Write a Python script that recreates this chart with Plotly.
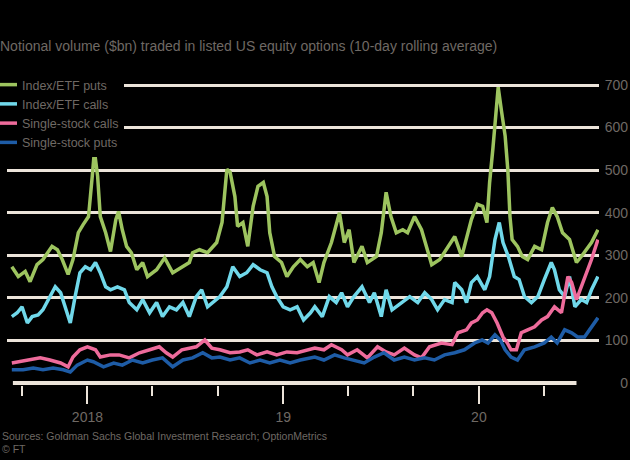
import plotly.graph_objects as go

title_text = "Notional volume ($bn) traded in listed US equity options (10-day rolling average)"
source_text = "Sources: Goldman Sachs Global Investment Research; OptionMetrics"
credit_text = "© FT"

series_names = ["Index/ETF puts", "Index/ETF calls", "Single-stock calls", "Single-stock puts"]
series_colors = ["#9dc45f", "#70d8ea", "#ee6b9b", "#1e5ca6"]

puts_idx_dates = [
    "2017-08-13", "2017-08-25", "2017-09-07", "2017-09-16", "2017-09-29", "2017-10-10", "2017-10-27",
    "2017-11-06", "2017-11-15", "2017-11-26", "2017-12-05", "2017-12-15", "2017-12-24", "2018-01-03",
    "2018-01-10", "2018-01-14", "2018-01-20", "2018-01-25", "2018-02-04", "2018-02-13", "2018-02-23",
    "2018-02-28", "2018-03-07", "2018-03-15", "2018-03-24", "2018-04-03", "2018-04-14", "2018-04-23",
    "2018-05-10", "2018-05-25", "2018-06-09", "2018-06-26", "2018-07-10", "2018-07-16", "2018-07-29",
    "2018-08-13", "2018-08-30", "2018-09-09", "2018-09-18", "2018-09-24", "2018-10-03", "2018-10-08",
    "2018-10-18", "2018-10-27", "2018-11-06", "2018-11-15", "2018-11-25", "2018-12-02", "2018-12-07",
    "2018-12-16", "2018-12-29", "2019-01-08", "2019-01-20", "2019-02-02", "2019-02-15", "2019-02-26",
    "2019-03-09", "2019-03-18", "2019-04-01", "2019-04-16", "2019-04-25", "2019-05-04", "2019-05-13",
    "2019-05-28", "2019-06-07", "2019-06-24", "2019-07-03", "2019-07-12", "2019-07-21", "2019-07-31",
    "2019-08-12", "2019-08-21", "2019-09-03", "2019-09-16", "2019-09-26", "2019-10-05", "2019-10-20",
    "2019-11-04", "2019-11-17", "2019-11-30", "2019-12-09", "2019-12-18", "2019-12-29", "2020-01-08",
    "2020-01-16", "2020-01-21", "2020-01-27", "2020-02-02", "2020-02-06", "2020-02-12", "2020-02-19",
    "2020-02-24", "2020-02-28", "2020-03-03", "2020-03-13", "2020-03-22", "2020-04-01", "2020-04-14",
    "2020-04-27", "2020-05-08", "2020-05-17", "2020-05-26", "2020-06-05", "2020-06-18", "2020-07-01",
    "2020-07-10", "2020-07-20", "2020-07-29", "2020-08-10",
]
puts_idx_values = [
    273, 250, 262, 238, 278, 290, 321,
    313, 290, 255, 290, 353, 372, 391,
    486, 545, 486, 391, 353, 309, 384,
    403, 360, 321, 306, 266, 283, 250,
    266, 294, 259, 273, 283, 306, 313,
    306, 330, 377, 502, 495, 438, 368,
    377, 321, 415, 462, 471, 438, 353,
    297, 283, 250, 273, 290, 273, 283,
    236, 283, 330, 400, 330, 360, 283,
    321, 283, 297, 353, 448, 391, 353,
    360, 353, 391, 360, 313, 278, 290,
    321, 344, 297, 344, 384, 420, 415,
    377, 471, 549, 640, 695, 640, 580,
    500, 391, 337, 321, 297, 290, 321,
    313, 377, 412, 391, 353, 337, 283,
    297, 313, 330, 360,
]

calls_idx_dates = [
    "2017-08-13", "2017-08-23", "2017-09-01", "2017-09-11", "2017-09-20", "2017-10-01", "2017-10-10",
    "2017-10-23", "2017-11-02", "2017-11-12", "2017-11-21", "2017-11-30", "2017-12-09", "2017-12-18",
    "2017-12-28", "2018-01-07", "2018-01-16", "2018-01-25", "2018-02-04", "2018-02-13", "2018-02-26",
    "2018-03-11", "2018-03-20", "2018-04-03", "2018-04-14", "2018-04-27", "2018-05-10", "2018-05-21",
    "2018-06-03", "2018-06-16", "2018-06-28", "2018-07-10", "2018-07-23", "2018-08-02", "2018-08-13",
    "2018-08-23", "2018-09-05", "2018-09-18", "2018-09-29", "2018-10-12", "2018-10-25", "2018-11-06",
    "2018-11-19", "2018-12-02", "2018-12-11", "2018-12-20", "2019-01-01", "2019-01-14", "2019-01-27",
    "2019-02-08", "2019-02-21", "2019-03-01", "2019-03-15", "2019-03-28", "2019-04-10", "2019-04-20",
    "2019-05-01", "2019-05-13", "2019-05-28", "2019-06-11", "2019-06-20", "2019-07-03", "2019-07-12",
    "2019-07-23", "2019-08-10", "2019-08-25", "2019-09-09", "2019-09-22", "2019-10-05", "2019-10-16",
    "2019-10-29", "2019-11-12", "2019-11-17", "2019-11-30", "2019-12-09", "2019-12-18", "2019-12-29",
    "2020-01-12", "2020-01-21", "2020-01-31", "2020-02-08", "2020-02-15", "2020-02-25", "2020-03-07",
    "2020-03-16", "2020-03-26", "2020-04-08", "2020-04-20", "2020-05-02", "2020-05-15", "2020-05-21",
    "2020-05-30", "2020-06-09", "2020-06-18", "2020-06-28", "2020-07-10", "2020-07-20", "2020-07-29",
    "2020-08-10",
]
calls_idx_values = [
    156, 165, 179, 141, 156, 160, 172,
    203, 226, 212, 179, 141, 203, 259,
    273, 266, 283, 259, 226, 219, 226,
    219, 189, 172, 196, 165, 189, 156,
    179, 172, 189, 156, 203, 219, 179,
    189, 203, 226, 273, 250, 259, 278,
    266, 259, 226, 203, 179, 172, 179,
    148, 165, 179, 156, 203, 189, 212,
    179, 203, 226, 189, 212, 156, 219,
    172, 189, 203, 189, 212, 196, 172,
    196, 189, 236, 219, 189, 236, 250,
    219, 250, 337, 377, 330, 297, 250,
    243, 203, 189, 203, 243, 283, 266,
    219, 203, 250, 179, 196, 189, 219,
    250,
]

calls_ss_dates = [
    "2017-08-13", "2017-08-28", "2017-09-16", "2017-10-05", "2017-10-23", "2017-11-12", "2017-11-26",
    "2017-12-05", "2017-12-18", "2018-01-01", "2018-01-16", "2018-01-25", "2018-02-13", "2018-03-01",
    "2018-03-20", "2018-04-08", "2018-04-27", "2018-05-15", "2018-05-28", "2018-06-09", "2018-06-26",
    "2018-07-10", "2018-07-23", "2018-08-08", "2018-08-21", "2018-09-05", "2018-09-24", "2018-10-12",
    "2018-10-27", "2018-11-13", "2018-12-02", "2018-12-20", "2019-01-08", "2019-01-27", "2019-02-15",
    "2019-03-01", "2019-03-18", "2019-04-01", "2019-04-20", "2019-05-01", "2019-05-19", "2019-06-07",
    "2019-06-26", "2019-07-12", "2019-07-27", "2019-08-15", "2019-09-03", "2019-09-16", "2019-10-01",
    "2019-10-23", "2019-11-12", "2019-11-23", "2019-12-09", "2019-12-18", "2019-12-29", "2020-01-08",
    "2020-01-16", "2020-01-25", "2020-02-04", "2020-02-15", "2020-02-23", "2020-03-01", "2020-03-11",
    "2020-03-20", "2020-04-01", "2020-04-14", "2020-04-27", "2020-05-08", "2020-05-21", "2020-06-03",
    "2020-06-15", "2020-06-22", "2020-07-01", "2020-07-10", "2020-07-16", "2020-07-29", "2020-08-10",
]
calls_ss_values = [
    47, 50, 54, 59, 54, 47, 38,
    61, 78, 85, 78, 61, 66, 66,
    59, 71, 78, 85, 71, 61, 78,
    82, 85, 101, 82, 78, 71, 73,
    78, 66, 73, 66, 73, 71, 78,
    82, 78, 90, 78, 66, 78, 59,
    85, 73, 66, 82, 66, 59, 85,
    94, 90, 118, 125, 141, 148, 165,
    172, 165, 141, 108, 94, 78, 78,
    118, 125, 132, 148, 156, 179, 165,
    250, 236, 196, 226, 250, 290, 337,
]

puts_ss_dates = [
    "2017-08-13", "2017-09-03", "2017-09-22", "2017-10-10", "2017-10-29", "2017-11-17", "2017-11-30",
    "2017-12-13", "2018-01-01", "2018-01-12", "2018-01-31", "2018-02-19", "2018-03-07", "2018-03-26",
    "2018-04-14", "2018-05-02", "2018-05-21", "2018-06-09", "2018-06-28", "2018-07-16", "2018-08-04",
    "2018-08-21", "2018-09-05", "2018-09-24", "2018-10-12", "2018-10-31", "2018-11-19", "2018-12-07",
    "2018-12-26", "2019-01-14", "2019-02-02", "2019-02-21", "2019-03-01", "2019-03-18", "2019-04-07",
    "2019-04-25", "2019-05-13", "2019-06-01", "2019-06-20", "2019-07-08", "2019-07-27", "2019-08-15",
    "2019-09-03", "2019-09-22", "2019-10-10", "2019-10-29", "2019-11-17", "2019-12-05", "2019-12-24",
    "2020-01-07", "2020-01-18", "2020-01-31", "2020-02-10", "2020-02-19", "2020-03-01", "2020-03-13",
    "2020-03-26", "2020-04-14", "2020-05-02", "2020-05-15", "2020-05-26", "2020-06-09", "2020-06-22",
    "2020-07-03", "2020-07-16", "2020-07-29", "2020-08-10",
]
puts_ss_values = [
    31, 31, 35, 31, 35, 31, 26,
    42, 54, 50, 38, 47, 42, 54,
    47, 54, 59, 38, 54, 59, 71,
    59, 61, 54, 59, 47, 54, 47,
    54, 47, 54, 59, 61, 54, 66,
    59, 54, 47, 61, 71, 54, 61,
    54, 59, 54, 66, 71, 78, 94,
    101, 94, 113, 101, 78, 61, 54,
    78, 85, 94, 108, 94, 125, 118,
    108, 108, 132, 153,
]

y_tick_values = [0, 100, 200, 300, 400, 500, 600, 700]
y_tick_labels = ["0", "100", "200", "300", "400", "500", "600", "700"]
x_major_ticks = ["2018-01-01", "2019-01-01", "2020-01-01"]
x_major_labels = ["2018", "19", "20"]
x_minor_ticks = ["2017-09-01", "2018-01-01", "2018-05-01", "2018-09-01", "2019-01-01",
                 "2019-05-01", "2019-09-01", "2020-01-01", "2020-05-01"]
x_range = ["2017-08-04", "2020-08-12"]
baseline_span = ["2017-08-15", "2020-07-01"]

TEXT = "#6f6964"
GRID = "#ece4da"
FONT = "Liberation Sans, Arial, sans-serif"

fig = go.Figure()
all_series = [
    (puts_idx_dates, puts_idx_values),
    (calls_idx_dates, calls_idx_values),
    (calls_ss_dates, calls_ss_values),
    (puts_ss_dates, puts_ss_values),
]
for (d, v), name, color in zip(all_series, series_names, series_colors):
    fig.add_trace(go.Scatter(x=d, y=v, mode="lines", name=name,
                             line=dict(color=color, width=3.5), hoverinfo="skip"))

fig.add_shape(type="line", xref="x", yref="y",
              x0=baseline_span[0], x1=baseline_span[1], y0=0, y1=0,
              line=dict(color=GRID, width=4), layer="above")

W, H = 630, 460
ml, mr, mt, mb = 7, 2, 75, 75
paper_w = W - ml - mr
paper_h = H - mt - mb
plot_right_px = 599
x_dom_end = (plot_right_px - ml) / paper_w

fig.update_layout(
    width=W, height=H,
    margin=dict(l=ml, r=mr, t=mt, b=mb, autoexpand=False),
    paper_bgcolor="black", plot_bgcolor="black",
    font=dict(family=FONT, color=TEXT, size=12),
    title=dict(text=title_text, x=0, xref="container", xanchor="left",
               y=1 - 46 / H, yref="container", yanchor="middle",
               font=dict(size=14, color=TEXT, family=FONT)),
    showlegend=True,
    legend=dict(x=(-18 - ml) / paper_w, xanchor="left", y=1 + 5 / paper_h, yanchor="top",
                bgcolor="black", borderwidth=0,
                font=dict(size=12.5, color=TEXT, family=FONT),
                itemwidth=30, tracegroupgap=0),
    xaxis=dict(type="date", domain=[0, x_dom_end], range=x_range, anchor="y",
               showgrid=False, zeroline=False, showline=False,
               tickmode="array", tickvals=x_major_ticks, ticktext=x_major_labels,
               ticks="outside", ticklen=18, tickwidth=2, tickcolor=GRID,
               ticklabelstandoff=1,
               tickfont=dict(size=14, color=TEXT, family=FONT),
               minor=dict(tickmode="array", tickvals=x_minor_ticks, ticks="outside",
                          ticklen=10, tickwidth=2, tickcolor=GRID, showgrid=False)),
    yaxis=dict(range=[-4.7, 723.5], anchor="free", position=1.0, side="left",
               tickmode="array", tickvals=y_tick_values, ticktext=y_tick_labels,
               ticks="", showgrid=True, gridcolor=GRID, gridwidth=3,
               zeroline=True, zerolinecolor="black", zerolinewidth=1,
               showline=False,
               tickfont=dict(size=14, color=TEXT, family=FONT)),
)

fig.add_annotation(text=source_text, xref="paper", yref="paper",
                   x=-ml / paper_w, y=-(436 - (H - mb)) / paper_h, xanchor="left", yanchor="middle",
                   showarrow=False, font=dict(size=10.5, color=TEXT, family=FONT))
fig.add_annotation(text=credit_text, xref="paper", yref="paper",
                   x=-ml / paper_w, y=-(449 - (H - mb)) / paper_h, xanchor="left", yanchor="middle",
                   showarrow=False, font=dict(size=10.5, color=TEXT, family=FONT))

fig.write_html("out.html")
